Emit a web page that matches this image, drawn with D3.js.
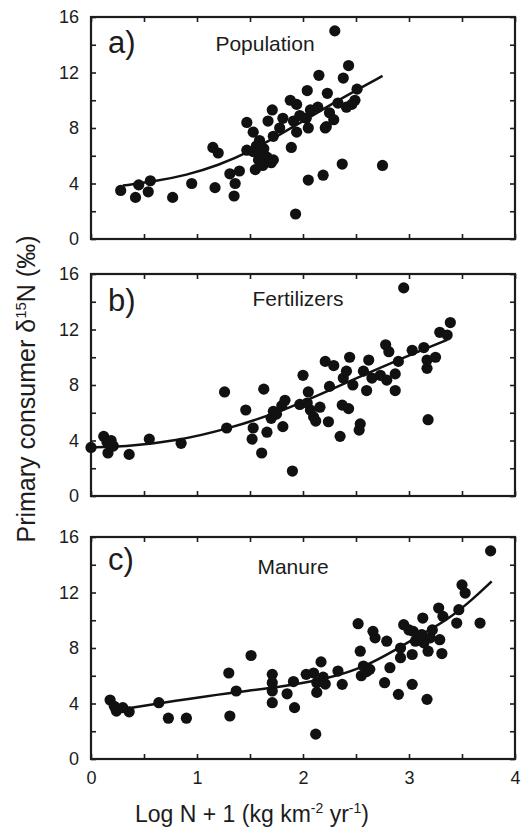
<!DOCTYPE html>
<html>
<head>
<meta charset="utf-8">
<script src="https://cdn.jsdelivr.net/npm/d3@7"></script>
<style>
  body { margin: 0; background: #fff; }
  svg { font-family: "Liberation Sans", Arial, Helvetica, sans-serif; }
</style>
</head>
<body>
<svg width="522" height="830"></svg>
<script>
// data: [log N + 1, primary consumer d15N]
var popPoints = [
  [0.28,3.5],[0.42,3.0],[0.45,3.9],[0.54,3.4],[0.56,4.2],[0.77,3.0],[0.95,4.0],
  [1.15,6.6],[1.20,6.2],[1.17,3.7],[1.31,4.7],[1.35,3.1],[1.36,4.0],[1.40,4.9],
  [1.47,8.4],[1.47,6.4],[1.53,7.7],[1.53,6.3],[1.55,5.0],[1.56,6.7],[1.58,5.7],
  [1.59,7.1],[1.61,6.0],[1.62,5.3],[1.63,6.5],[1.66,5.9],[1.67,8.5],[1.70,5.5],
  [1.71,9.3],[1.72,7.4],[1.72,5.7],[1.78,8.0],[1.81,8.7],[1.88,10.0],[1.89,6.6],
  [1.91,8.5],[1.93,1.8],[1.94,9.7],[1.94,7.7],[1.97,8.9],[2.03,8.7],[2.04,10.7],
  [2.05,8.0],[2.05,4.25],[2.07,9.3],[2.14,9.5],[2.15,11.8],[2.19,4.6],[2.21,8.0],
  [2.22,8.1],[2.23,10.5],[2.25,9.1],[2.29,8.6],[2.30,15.0],[2.33,9.8],[2.37,5.4],
  [2.38,11.6],[2.41,9.5],[2.43,12.5],[2.46,9.7],[2.49,10.0],[2.51,10.8],[2.75,5.3]
];
var fertPoints = [
  [0.0,3.5],[0.12,4.3],[0.15,3.9],[0.18,3.7],[0.16,3.1],[0.21,3.6],[0.19,4.0],
  [0.36,3.0],[0.55,4.1],[0.85,3.8],[1.26,7.5],[1.28,4.9],[1.46,6.2],[1.53,4.9],
  [1.52,4.1],[1.61,3.1],[1.63,7.7],[1.66,4.6],[1.70,5.6],[1.72,6.1],[1.75,5.9],
  [1.80,6.5],[1.83,6.9],[1.81,5.0],[1.90,1.8],[1.97,6.6],[2.00,8.7],[2.04,6.7],
  [2.05,7.5],[2.07,6.2],[2.10,5.7],[2.16,6.4],[2.12,5.4],[2.21,9.7],[2.24,5.35],
  [2.25,7.9],[2.29,9.4],[2.35,4.3],[2.37,6.55],[2.38,8.5],[2.41,9.0],[2.43,6.3],
  [2.44,10.0],[2.47,8.0],[2.53,4.75],[2.54,5.2],[2.57,9.0],[2.60,7.6],[2.62,9.8],
  [2.65,8.5],[2.73,8.7],[2.78,10.9],[2.79,8.35],[2.81,10.4],[2.87,7.6],[2.87,8.8],
  [2.90,9.7],[2.95,15.0],[3.03,10.5],[3.14,10.7],[3.17,9.8],[3.17,9.2],[3.18,5.5],
  [3.25,10.0],[3.29,11.8],[3.36,11.6],[3.39,12.5]
];
var manurePoints = [
  [0.18,4.25],[0.22,3.8],[0.24,3.45],[0.30,3.7],[0.36,3.4],[0.64,4.06],[0.73,2.94],
  [0.90,2.94],[1.30,6.2],[1.31,3.1],[1.37,4.9],[1.51,7.46],[1.71,6.1],[1.71,5.5],
  [1.71,4.9],[1.71,4.06],[1.85,4.7],[1.91,5.58],[1.92,3.7],[2.03,6.1],[2.10,6.2],
  [2.12,1.79],[2.13,5.5],[2.13,4.8],[2.17,7.0],[2.19,5.9],[2.21,5.4],[2.33,6.34],
  [2.37,5.38],[2.52,9.75],[2.54,7.77],[2.55,6.0],[2.57,6.7],[2.60,6.3],[2.63,6.46],
  [2.66,9.2],[2.68,8.73],[2.77,5.5],[2.79,8.49],[2.82,6.58],[2.90,4.66],[2.92,8.0],
  [2.92,7.3],[2.95,9.68],[3.00,9.3],[3.03,7.53],[3.03,5.38],[3.04,9.2],[3.06,8.49],
  [3.12,8.97],[3.13,10.16],[3.14,8.37],[3.17,4.3],[3.18,7.77],[3.20,8.73],[3.22,9.3],
  [3.28,10.88],[3.29,8.6],[3.31,7.6],[3.32,10.28],[3.45,9.8],[3.47,10.76],
  [3.50,12.55],[3.53,11.96],[3.67,9.8],[3.77,15.0]
];

// fitted curves
var popCurveX = [0.3, 0.6, 0.9, 1.2, 1.5, 1.8, 2.1, 2.4, 2.75];
var popCurveY = [3.85, 4.15, 4.6, 5.3, 6.3, 7.6, 8.95, 10.3, 11.75];
var fertCurveX = [0, 0.3, 0.8, 1.3, 1.8, 2.3, 2.8, 3.36];
var fertCurveY = [3.5, 3.55, 3.95, 4.85, 6.1, 7.8, 9.5, 11.25];
var manCurveX = [0.3, 0.8, 1.3, 1.8, 2.25, 2.6, 2.88, 3.1, 3.36, 3.6, 3.78];
var manCurveY = [3.6, 4.2, 4.75, 5.2, 5.8, 6.7, 7.9, 8.9, 10.0, 11.5, 12.8];

var panelLetters = ["a)", "b)", "c)"];
var panelNames = ["Population", "Fertilizers", "Manure"];
var xTicks = [0, 0.5, 1, 1.5, 2, 2.5, 3, 3.5, 4];
var yTicks = [0, 2, 4, 6, 8, 10, 12, 14, 16];

var svg = d3.select("svg");
var left = 91, right = 515;
var panelTops = [17, 274, 537];
var panelH = 222;
var ink = "#1c1c1c";

var xScale = d3.scaleLinear().domain([0, 4]).range([left, right]);

var panels = [
  {pts: popPoints, cx: popCurveX, cy: popCurveY, nameX: 265, nameY: 51, letY: 53},
  {pts: fertPoints, cx: fertCurveX, cy: fertCurveY, nameX: 298, nameY: 306, letY: 311},
  {pts: manurePoints, cx: manCurveX, cy: manCurveY, nameX: 293, nameY: 574, letY: 570}
];

panels.forEach(function(p, i) {
  var top = panelTops[i];
  var yScale = d3.scaleLinear().domain([0, 16]).range([top + panelH, top]);
  var g = svg.append("g");

  // ticks on all four sides, pointing inwards
  var yLeft = d3.axisLeft(yScale).tickValues(yTicks).tickSize(-5).tickPadding(12)
      .tickFormat(function(d) { return d % 4 === 0 ? d : ""; });
  var yRight = d3.axisRight(yScale).tickValues(yTicks).tickSize(-5).tickFormat("");
  var xTop = d3.axisTop(xScale).tickValues(xTicks).tickSize(-5).tickFormat("");
  var xBot = d3.axisBottom(xScale).tickValues(xTicks).tickSize(-5).tickPadding(12)
      .tickFormat(i === 2 ? function(d) { return d % 1 === 0 ? d : ""; } : "");

  g.append("g").attr("transform", "translate(" + left + ",0)").call(yLeft);
  g.append("g").attr("transform", "translate(" + right + ",0)").call(yRight);
  g.append("g").attr("transform", "translate(0," + top + ")").call(xTop);
  g.append("g").attr("transform", "translate(0," + (top + panelH) + ")").call(xBot);

  g.selectAll(".domain").remove();
  g.selectAll(".tick line").attr("stroke", ink).attr("stroke-width", 1.6);
  g.selectAll(".tick text").attr("font-size", 18).attr("fill", ink)
      .attr("font-family", "'Liberation Sans', Arial, sans-serif");

  g.append("rect")
      .attr("x", left).attr("y", top)
      .attr("width", right - left).attr("height", panelH)
      .attr("fill", "none").attr("stroke", ink).attr("stroke-width", 2.2);

  g.selectAll("circle")
      .data(p.pts)
      .enter()
      .append("circle")
      .attr("cx", function(d) { return xScale(d[0]); })
      .attr("cy", function(d) { return yScale(d[1]); })
      .attr("r", 5.6)
      .attr("fill", "#111");

  var line = d3.line()
      .x(function(d) { return xScale(d[0]); })
      .y(function(d) { return yScale(d[1]); })
      .curve(d3.curveBasis);
  g.append("path")
      .datum(d3.zip(p.cx, p.cy))
      .attr("d", line)
      .attr("fill", "none")
      .attr("stroke", "#111")
      .attr("stroke-width", 2.5);

  g.append("text")
      .attr("x", 108).attr("y", p.letY)
      .attr("font-size", 31)
      .attr("fill", ink)
      .text(panelLetters[i]);
  g.append("text")
      .attr("x", p.nameX).attr("y", p.nameY)
      .attr("text-anchor", "middle")
      .attr("font-size", 21)
      .attr("fill", ink)
      .text(panelNames[i]);
});

// x axis title
var xt = svg.append("text")
    .attr("x", 252).attr("y", 822)
    .attr("text-anchor", "middle")
    .attr("font-size", 23)
    .attr("fill", ink);
xt.append("tspan").text("Log N + 1 (kg km");
xt.append("tspan").attr("font-size", 14).attr("dy", -9).text("-2");
xt.append("tspan").attr("dy", 9).text(" yr");
xt.append("tspan").attr("font-size", 14).attr("dy", -9).text("-1");
xt.append("tspan").attr("dy", 9).text(")");

// y axis title
var yt = svg.append("text")
    .attr("transform", "translate(35,389) rotate(-90)")
    .attr("text-anchor", "middle")
    .attr("font-size", 25)
    .attr("fill", ink);
yt.append("tspan").text("Primary consumer \u03b4");
yt.append("tspan").attr("font-size", 15).attr("dy", -9).text("15");
yt.append("tspan").attr("dy", 9).text("N (\u2030)");
</script>
</body>
</html>
